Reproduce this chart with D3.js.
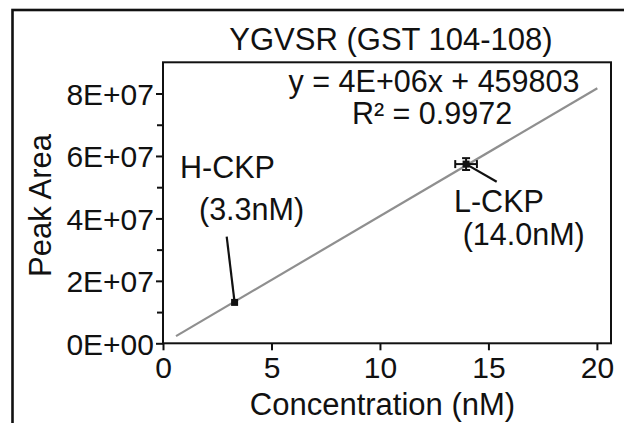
<!DOCTYPE html>
<html>
<head>
<meta charset="utf-8">
<script src="https://cdn.jsdelivr.net/npm/d3@7/dist/d3.min.js"></script>
<style>
  html, body { margin: 0; padding: 0; background: #fff; }
  svg { display: block; }
  text { font-family: "Liberation Sans", Arial, Helvetica, sans-serif; fill: #111; }
</style>
</head>
<body>
<script>
// ---- data ----
const chartTitle = "YGVSR (GST 104-108)";
const xLabel = "Concentration (nM)";
const yLabel = "Peak Area";
const xTicks = [0, 5, 10, 15, 20];
const xTickLabels = ["0", "5", "10", "15", "20"];
const yTicks = [0, 2e7, 4e7, 6e7, 8e7];
const yTickLabels = ["0E+00", "2E+07", "4E+07", "6E+07", "8E+07"];
const yMinorTicks = [1e7, 3e7, 5e7, 7e7];
const pointNames = ["H-CKP", "L-CKP"];
const pointConcLabels = ["(3.3nM)", "(14.0nM)"];
const pointConc = [3.3, 13.97];
const pointArea = [1.31e7, 5.74e7];
const pointXErr = [0, 0.5];
const pointYErr = [0, 1.9e6];
const trendX = [0.6, 20.02];
const trendY = [2.3e6, 8.17e7];
const equationLines = ["y = 4E+06x + 459803", "R\u00B2 = 0.9972"];

// ---- layout ----
const W = 624, H = 423;
const plot = { left: 163, right: 611, top: 62.3, bottom: 343.3 };

const svg = d3.select("body").append("svg").attr("width", W).attr("height", H);

// outer frame (extends past right/bottom edges)
svg.append("rect").attr("x", 12.5).attr("y", 10).attr("width", 700).attr("height", 500)
  .attr("fill", "none").attr("stroke", "#111").attr("stroke-width", 2.6);

const x = d3.scaleLinear().domain([0, 20.65]).range([plot.left, plot.right]);
const y = d3.scaleLinear().domain([0, 9e7]).range([plot.bottom, plot.top]);

// plot box
svg.append("rect").attr("x", plot.left).attr("y", plot.top)
  .attr("width", plot.right - plot.left).attr("height", plot.bottom - plot.top)
  .attr("fill", "none").attr("stroke", "#111").attr("stroke-width", 2);

// x axis
const xAxis = d3.axisBottom(x).tickValues(xTicks).tickSize(7).tickPadding(4)
  .tickFormat((d, i) => xTickLabels[i]);
const gx = svg.append("g").attr("transform", `translate(0,${plot.bottom})`).call(xAxis);
gx.select(".domain").remove();
gx.selectAll(".tick line").attr("stroke", "#111").attr("stroke-width", 2);
gx.selectAll(".tick text").attr("font-size", 30).attr("dy", "0.78em")
  .style("font-family", "'Liberation Sans', Arial, sans-serif").attr("fill", "#111");

// y axis
const yAxis = d3.axisLeft(y).tickValues(yTicks).tickSize(7).tickPadding(2)
  .tickFormat((d, i) => yTickLabels[i]);
const gy = svg.append("g").attr("transform", `translate(${plot.left},0)`).call(yAxis);
gy.select(".domain").remove();
gy.selectAll(".tick line").attr("stroke", "#111").attr("stroke-width", 2);
gy.selectAll(".tick text").attr("font-size", 30).attr("dy", "0.36em")
  .style("font-family", "'Liberation Sans', Arial, sans-serif").attr("fill", "#111");

const yMinor = d3.axisLeft(y).tickValues(yMinorTicks).tickSize(6).tickFormat("");
const gym = svg.append("g").attr("transform", `translate(${plot.left},0)`).call(yMinor);
gym.select(".domain").remove();
gym.selectAll(".tick line").attr("stroke", "#111").attr("stroke-width", 2);

// trendline
const trend = trendX.map((v, i) => [v, trendY[i]]);
svg.append("path").datum(trend)
  .attr("d", d3.line().x(d => x(d[0])).y(d => y(d[1])))
  .attr("stroke", "#8f8f8f").attr("stroke-width", 2.2).attr("fill", "none");

// points
const pts = pointConc.map((c, i) => ({ c, a: pointArea[i], xe: pointXErr[i], ye: pointYErr[i] }));

// leader lines
const leaderEnds = [[226.7, 236.7], [496.7, 181.7]];
pts.forEach((p, i) => {
  svg.append("line").attr("x1", x(p.c)).attr("y1", y(p.a))
    .attr("x2", leaderEnds[i][0]).attr("y2", leaderEnds[i][1])
    .attr("stroke", "#111").attr("stroke-width", 2.2);
});

// error bars
pts.filter(p => p.xe > 0).forEach(p => {
  const g = svg.append("g").attr("stroke", "#111").attr("stroke-width", 2);
  g.append("line").attr("x1", x(p.c - p.xe)).attr("x2", x(p.c + p.xe)).attr("y1", y(p.a)).attr("y2", y(p.a));
  g.append("line").attr("x1", x(p.c - p.xe)).attr("x2", x(p.c - p.xe)).attr("y1", y(p.a) - 4).attr("y2", y(p.a) + 4);
  g.append("line").attr("x1", x(p.c + p.xe)).attr("x2", x(p.c + p.xe)).attr("y1", y(p.a) - 4).attr("y2", y(p.a) + 4);
  g.append("line").attr("x1", x(p.c)).attr("x2", x(p.c)).attr("y1", y(p.a - p.ye)).attr("y2", y(p.a + p.ye));
  g.append("line").attr("x1", x(p.c) - 4).attr("x2", x(p.c) + 4).attr("y1", y(p.a - p.ye)).attr("y2", y(p.a - p.ye));
  g.append("line").attr("x1", x(p.c) - 4).attr("x2", x(p.c) + 4).attr("y1", y(p.a + p.ye)).attr("y2", y(p.a + p.ye));
});

svg.selectAll("rect.pt").data(pts).enter().append("rect").attr("class", "pt")
  .attr("x", d => x(d.c) - 3.5).attr("y", d => y(d.a) - 3.5)
  .attr("width", 7).attr("height", 7).attr("fill", "#111");

// point labels
const nameAnchors = [[180, 178.3], [454, 211.7]];
const concAnchors = [[199, 219.5], [462.7, 244.5]];
pointNames.forEach((n, i) => {
  svg.append("text").attr("x", nameAnchors[i][0]).attr("y", nameAnchors[i][1])
    .attr("font-size", 30.5).text(n);
  svg.append("text").attr("x", concAnchors[i][0]).attr("y", concAnchors[i][1])
    .attr("font-size", 30.5).text(pointConcLabels[i]);
});

// equation
svg.append("text").attr("x", 434).attr("y", 91.7).attr("text-anchor", "middle")
  .attr("font-size", 30.5).text(equationLines[0]);
svg.append("text").attr("x", 432).attr("y", 124.3).attr("text-anchor", "middle")
  .attr("font-size", 30.5).text(equationLines[1]);

// titles
svg.append("text").attr("x", 391).attr("y", 50).attr("text-anchor", "middle")
  .attr("font-size", 31).text(chartTitle);
svg.append("text").attr("x", 382.5).attr("y", 415).attr("text-anchor", "middle")
  .attr("font-size", 31).text(xLabel);
svg.append("text").attr("transform", "translate(51,205.5) rotate(-90)")
  .attr("text-anchor", "middle").attr("font-size", 31).text(yLabel);
</script>
</body>
</html>
